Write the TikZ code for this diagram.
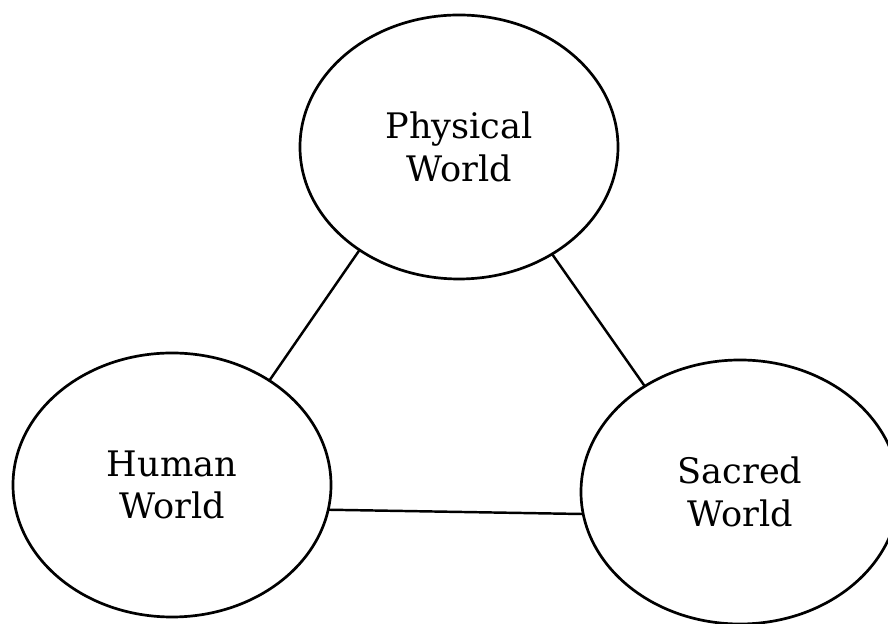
\documentclass[tikz,border=0pt]{standalone}
\usepackage{fontspec}
\setmainfont{DejaVu Serif}
\usetikzlibrary{shapes.geometric}

\begin{document}
\begin{tikzpicture}[x=0.03cm,y=0.03cm,
        world/.style={ellipse,draw,line width=2.3pt,inner sep=0pt,outer sep=0pt,
            minimum width=9.54cm,minimum height=7.92cm,align=center,
            font=\fontsize{30}{36.5}\selectfont},
        link/.style={line width=2.1pt}]
        % Frame of the picture
        \useasboundingbox (0,0) rectangle (888,624);
        \clip (0,0) rectangle (888,624);
        % The three worlds
        \node[world] (phys)   at (459,477) {Physical\\World};
        \node[world] (human)  at (172,139) {Human\\World};
        \node[world] (sacred) at (740,132) {Sacred\\World};
        % Links between them
        \draw[link] (phys.226) -- (human.47);
        \draw[link] (phys.311) -- (sacred.132);
        \draw[link] (human.-9) -- (sacred.188);
    \end{tikzpicture}
\end{document}
